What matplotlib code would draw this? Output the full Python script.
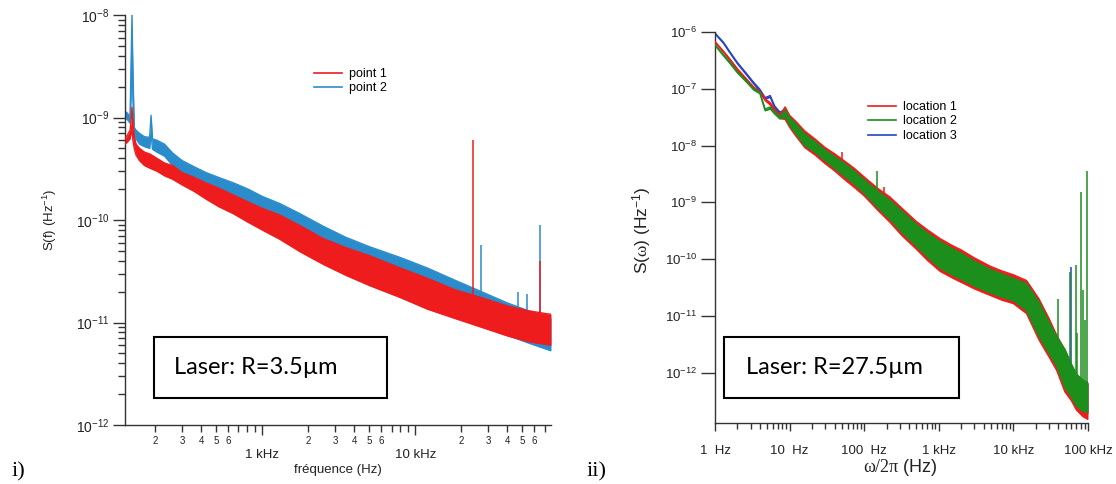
import numpy as np
import matplotlib
matplotlib.use('Agg')
import matplotlib.pyplot as plt
from matplotlib.ticker import FixedLocator, FixedFormatter, LogLocator, FuncFormatter, NullFormatter, NullLocator
from matplotlib.ticker import LogFormatterSciNotation
from matplotlib.patches import Rectangle
from matplotlib.lines import Line2D

plt.rcParams['font.family'] = ['Liberation Sans', 'DejaVu Sans']
plt.rcParams['mathtext.fontset'] = 'custom'
plt.rcParams['mathtext.rm'] = 'Liberation Sans'
plt.rcParams['mathtext.it'] = 'Liberation Sans:italic'
plt.rcParams['mathtext.tt'] = 'Liberation Serif'

# ---------------- data: panel i) ----------------
p2_freq = [127, 132, 137, 139, 141, 143, 146, 150, 158, 170, 184, 188, 192, 205, 230, 260, 300, 360, 430,
           520, 650, 810, 1000, 1300, 1770, 2500, 3500, 5000, 8000, 12000, 18000, 27000, 40000, 55000, 77000]
p2_hi = [1.15e-9, 1.1e-9, 1.0e-9, 3e-9, 1e-8, 3e-9, 8e-10, 7.5e-10, 7e-10, 6.5e-10, 6.4e-10, 1.05e-9, 6.2e-10,
         6.0e-10, 5.5e-10, 4.5e-10, 3.8e-10, 3.3e-10, 2.9e-10, 2.6e-10, 2.3e-10, 2.0e-10, 1.7e-10, 1.45e-10,
         1.15e-10, 8.7e-11, 6.8e-11, 5.5e-11, 4.3e-11, 3.4e-11, 2.6e-11, 2.0e-11, 1.55e-11, 1.3e-11, 1.1e-11]
p2_lo = [1.0e-9, 9.5e-10, 8.8e-10, 1.5e-9, 6e-9, 1.5e-9, 7e-10, 6.2e-10, 5.5e-10, 5.2e-10, 5.0e-10, 7e-10, 4.9e-10,
         4.6e-10, 4.2e-10, 3.4e-10, 2.9e-10, 2.5e-10, 2.1e-10, 1.8e-10, 1.5e-10, 1.3e-10, 1.1e-10, 9.2e-11,
         7.2e-11, 5.4e-11, 4.1e-11, 3e-11, 2.2e-11, 1.7e-11, 1.3e-11, 1.0e-11, 7.5e-12, 6.3e-12, 5.3e-12]

p1_freq = [127, 132, 137, 139, 141, 143, 146, 150, 158, 170, 185, 205, 230, 260, 300, 360, 430, 520, 650,
           810, 1000, 1300, 1770, 2500, 3500, 5000, 8000, 12000, 18000, 27000, 40000, 55000, 77000]
p1_hi = [6.2e-10, 6.8e-10, 7.5e-10, 9e-10, 1.26e-9, 9e-10, 6.5e-10, 5.5e-10, 5e-10, 4.6e-10, 4.4e-10, 4.0e-10,
         3.6e-10, 3.4e-10, 2.9e-10, 2.6e-10, 2.3e-10, 2.05e-10, 1.75e-10, 1.5e-10, 1.3e-10, 1.12e-10, 8.8e-11,
         6.6e-11, 5.4e-11, 4.5e-11, 3.4e-11, 2.7e-11, 2.1e-11, 1.75e-11, 1.45e-11, 1.3e-11, 1.2e-11]
p1_lo = [5.5e-10, 5.8e-10, 6.2e-10, 7e-10, 8e-10, 6e-10, 5e-10, 4.3e-10, 3.8e-10, 3.4e-10, 3.2e-10, 3.0e-10,
         2.7e-10, 2.5e-10, 2.2e-10, 1.9e-10, 1.6e-10, 1.35e-10, 1.15e-10, 9.5e-11, 8.0e-11, 6.5e-11, 4.9e-11,
         3.7e-11, 2.9e-11, 2.3e-11, 1.75e-11, 1.35e-11, 1.1e-11, 9e-12, 7.4e-12, 6.5e-12, 6e-12]

p1_spike_f = [24000, 65000]
p1_spike_top = [6e-10, 4e-11]
p1_spike_base = [1.2e-11, 1.0e-11]
p2_spike_f = [27000, 47000, 54000, 65000]
p2_spike_top = [5.7e-11, 2e-11, 1.9e-11, 9e-11]
p2_spike_base = [1.5e-11, 1.2e-11, 1.2e-11, 1.1e-11]

left_labels = ['point 1', 'point 2']
left_xticks = [1000, 10000]
left_xticklabels = ['1 kHz', '10 kHz']
left_yticks = [1e-12, 1e-11, 1e-10, 1e-9, 1e-8]

# ---------------- data: panel ii) ----------------
r_freq = [1, 1.3, 1.6, 2.0, 2.7, 3.3, 4.0, 4.7, 5.5, 6.3, 7.4, 8.7, 10, 12, 16, 22, 30, 40, 55, 75, 100, 153,
          220, 320, 500, 700, 1040, 1500, 2000, 3000, 4900, 7000, 10000, 15000, 22000, 30000, 38000, 49000,
          60000, 70000, 85000, 100000]
r1_hi = [6.8e-7, 4.6e-7, 3.3e-7, 2.25e-7, 1.45e-7, 1.08e-7, 9.0e-8, 6.7e-8, 5.7e-8, 4.4e-8, 3.4e-8, 4.8e-8,
         3.4e-8, 2.7e-8, 1.8e-8, 1.3e-8, 9.2e-9, 7.2e-9, 5.3e-9, 3.9e-9, 2.8e-9, 1.75e-9, 1.25e-9, 7.9e-10,
         4.6e-10, 3.3e-10, 2.3e-10, 1.75e-10, 1.45e-10, 1.05e-10, 7.5e-11, 6.2e-11, 5.3e-11, 4.2e-11, 2.0e-11,
         9e-12, 4.6e-12, 2.5e-12, 1.4e-12, 9e-13, 7.3e-13, 6.8e-13]
r1_lo = [6.5e-7, 4.4e-7, 3.1e-7, 2.1e-7, 1.35e-7, 1.0e-7, 8.5e-8, 6.2e-8, 5.2e-8, 4.0e-8, 3.0e-8, 2.9e-8,
         2.1e-8, 1.5e-8, 9.2e-9, 6.8e-9, 4.8e-9, 3.6e-9, 2.5e-9, 1.8e-9, 1.3e-9, 7.2e-10, 4.5e-10, 2.6e-10,
         1.5e-10, 9.6e-11, 6.1e-11, 4.7e-11, 3.9e-11, 3.0e-11, 2.3e-11, 1.9e-11, 1.65e-11, 1.1e-11, 3.8e-12,
         1.9e-12, 1.1e-12, 4.6e-13, 3.2e-13, 2.2e-13, 1.7e-13, 1.5e-13]
r2_hi = [6.0e-7, 4.0e-7, 2.9e-7, 2.0e-7, 1.33e-7, 1.0e-7, 8.7e-8, 4.4e-8, 4.8e-8, 3.9e-8, 3.2e-8, 4.2e-8,
         3.1e-8, 2.45e-8, 1.6e-8, 1.17e-8, 8.3e-9, 6.4e-9, 4.8e-9, 3.5e-9, 2.5e-9, 1.55e-9, 1.1e-9, 7.0e-10,
         4.1e-10, 2.9e-10, 2.05e-10, 1.55e-10, 1.27e-10, 9.2e-11, 6.6e-11, 5.5e-11, 4.6e-11, 3.7e-11, 1.75e-11,
         7.8e-12, 4.3e-12, 2.6e-12, 1.4e-12, 9.5e-13, 7.5e-13, 6.6e-13]
r2_lo = [5.8e-7, 3.8e-7, 2.75e-7, 1.9e-7, 1.27e-7, 9.5e-8, 8.2e-8, 4.1e-8, 4.4e-8, 3.6e-8, 2.95e-8, 3.2e-8,
         2.3e-8, 1.65e-8, 1.0e-8, 7.6e-9, 5.4e-9, 4.0e-9, 2.85e-9, 2.05e-9, 1.45e-9, 8.0e-10, 5.1e-10, 2.95e-10,
         1.7e-10, 1.1e-10, 6.9e-11, 5.3e-11, 4.4e-11, 3.35e-11, 2.55e-11, 2.15e-11, 1.85e-11, 1.25e-11, 4.4e-12,
         2.2e-12, 1.3e-12, 5.5e-13, 3.7e-13, 2.6e-13, 2.1e-13, 2.0e-13]
r3_hi = [9.6e-7, 6.6e-7, 4.4e-7, 2.9e-7, 1.8e-7, 1.3e-7, 9.8e-8, 7.0e-8, 7.6e-8, 5.0e-8, 3.9e-8, 4.3e-8,
         3.2e-8, 2.5e-8, 1.65e-8, 1.2e-8, 8.5e-9, 6.6e-9, 4.9e-9, 3.6e-9, 2.6e-9, 1.6e-9, 1.15e-9, 7.2e-10,
         4.2e-10, 3.0e-10, 2.1e-10, 1.6e-10, 1.3e-10, 9.5e-11, 6.8e-11, 5.6e-11, 4.8e-11, 3.8e-11, 1.8e-11,
         8e-12, 4.2e-12, 2.3e-12, 1.3e-12, 8.5e-13, 7e-13, 6.5e-13]
r3_lo = [9.3e-7, 6.3e-7, 4.2e-7, 2.75e-7, 1.7e-7, 1.22e-7, 9.2e-8, 6.6e-8, 7.1e-8, 4.6e-8, 3.5e-8, 3.4e-8,
         2.4e-8, 1.7e-8, 1.05e-8, 7.8e-9, 5.5e-9, 4.1e-9, 2.9e-9, 2.1e-9, 1.5e-9, 8.2e-10, 5.2e-10, 3.0e-10,
         1.7e-10, 1.1e-10, 7e-11, 5.4e-11, 4.5e-11, 3.4e-11, 2.6e-11, 2.2e-11, 1.9e-11, 1.3e-11, 4.5e-12,
         2.2e-12, 1.3e-12, 5.5e-13, 3.8e-13, 2.6e-13, 2.1e-13, 1.9e-13]

r1_spike_f = [50, 186]
r1_spike_top = [7.7e-9, 1.9e-9]
r1_spike_base = [4e-9, 1e-9]
r2_spike_f = [150, 40000, 47000, 57000, 69000, 72000, 80000, 85000, 90000, 98000]
r2_spike_top = [3.5e-9, 2e-11, 2.5e-12, 6e-11, 8e-11, 5e-12, 1.5e-9, 2.9e-11, 8.6e-12, 3.5e-9]
r2_spike_base = [1.2e-9, 3e-12, 1e-12, 1e-12, 7e-13, 6e-13, 6e-13, 6e-13, 6e-13, 6e-13]
r3_spike_f = [59000]
r3_spike_top = [7.4e-11]
r3_spike_base = [1e-12]

right_labels = ['location 1', 'location 2', 'location 3']
right_xticks = [1, 10, 100, 1000, 10000, 100000]
right_xticklabels = ['1  Hz', '10  Hz', '100  Hz', '1 kHz', '10 kHz', '100 kHz']
right_yticks = [1e-12, 1e-11, 1e-10, 1e-9, 1e-8, 1e-7, 1e-6]

# ---------------- colours ----------------
C_RED = '#ee1c1c'
C_LBLUE = '#2b8ccc'
C_GREEN = '#1c8e1c'
C_DBLUE = '#2444c4'
AX_COL = '#333333'

W, H = 1116, 484
fig = plt.figure(figsize=(W / 100, H / 100), dpi=100)


def fx(px):
    return px / W


def fy(py):
    return 1 - py / H


def band(ax, f, lo, hi, color, z):
    ax.fill_between(f, lo, hi, color=color, lw=0, zorder=z)
    ax.plot(f, hi, color=color, lw=1.0, zorder=z)
    ax.plot(f, lo, color=color, lw=1.0, zorder=z)


def style(ax):
    for s in ['top', 'right']:
        ax.spines[s].set_visible(False)
    for s in ['left', 'bottom']:
        ax.spines[s].set_color(AX_COL)
        ax.spines[s].set_linewidth(1.0)
    ax.tick_params(which='both', colors=AX_COL, labelcolor='#222222', direction='out')
    ax.xaxis.label.set_visible(False)
    ax.yaxis.label.set_visible(False)
    ax.xaxis.get_offset_text().set_visible(False)
    ax.yaxis.get_offset_text().set_visible(False)


# ================= panel i) =================
axL = fig.add_axes([fx(125), fy(425), fx(551 - 125), (425 - 15) / H])
axL.set_xscale('log')
axL.set_yscale('log')
band(axL, p2_freq, p2_lo, p2_hi, C_LBLUE, 2)
axL.vlines(p2_spike_f, p2_spike_base, p2_spike_top, color=C_LBLUE, lw=1.1, zorder=2.5)
band(axL, p1_freq, p1_lo, p1_hi, C_RED, 3)
axL.vlines(p1_spike_f, p1_spike_base, p1_spike_top, color=C_RED, lw=1.1, zorder=3.5)
axL.set_xlim(127, 77000)
axL.set_ylim(1e-12, 1e-8)
style(axL)
axL.yaxis.set_major_locator(FixedLocator(left_yticks))
axL.yaxis.set_major_formatter(LogFormatterSciNotation())
axL.yaxis.set_minor_locator(FixedLocator([m * d for d in left_yticks[:-1] for m in range(2, 10)]))
axL.yaxis.set_minor_formatter(NullFormatter())
axL.tick_params(axis='y', which='major', length=9, width=1, pad=2, labelsize=10)
axL.tick_params(axis='y', which='minor', length=5, width=1)
axL.xaxis.set_major_locator(FixedLocator(left_xticks))
axL.xaxis.set_major_formatter(FixedFormatter(left_xticklabels))
axL.xaxis.set_minor_locator(FixedLocator([m * d for d in [100, 1000, 10000] for m in range(2, 10)
                                           if 127 <= m * d <= 77000]))


def minor_lab(v, pos):
    m = int(round(v / 10 ** np.floor(np.log10(v) + 1e-9)))
    return str(m) if 2 <= m <= 6 else ''


axL.xaxis.set_minor_formatter(FuncFormatter(minor_lab))
axL.tick_params(axis='x', which='major', length=7, width=1, pad=10, labelsize=9.5)
axL.tick_params(axis='x', which='minor', length=5, width=1, pad=3, labelsize=7)

handlesL = [Line2D([], [], color=C_RED, lw=1.2), Line2D([], [], color=C_LBLUE, lw=1.2)]
fig.legend(handlesL, left_labels, loc='upper left', bbox_to_anchor=(fx(314), fy(68)),
           frameon=False, fontsize=9, handlelength=2.2, handletextpad=0.6, labelspacing=0.2,
           borderpad=0, borderaxespad=0)

fig.text(fx(50), fy(220), r'S(f) (Hz$^{\mathregular{-1}}$)', rotation=90, ha='center', va='center',
         fontsize=9.5, color='#222222')
fig.text(fx(338), fy(470), 'fréquence (Hz)', ha='center', va='center', fontsize=9.5, color='#222222')

fig.add_artist(Rectangle((fx(154), fy(398)), (387 - 154) / W, (398 - 337) / H, transform=fig.transFigure,
                         fill=False, lw=1.5, edgecolor='black'))
fig.text(fx(174), fy(367), 'Laser: R=3.5µm', ha='left', va='center', fontsize=17,
         family=['Lato', 'DejaVu Sans'], color='black')
fig.text(fx(12), fy(472), 'i)', ha='left', va='center', fontsize=16, family=['Liberation Serif'],
         color='black')

# ================= panel ii) =================
axR = fig.add_axes([fx(715), fy(423), fx(1088 - 715), (423 - 32) / H])
axR.set_xscale('log')
axR.set_yscale('log')
band(axR, r_freq, r3_lo, r3_hi, C_DBLUE, 2)
axR.vlines(r3_spike_f, r3_spike_base, r3_spike_top, color=C_DBLUE, lw=1.1, zorder=2.5)
band(axR, r_freq, r1_lo, r1_hi, C_RED, 3)
axR.vlines(r1_spike_f, r1_spike_base, r1_spike_top, color=C_RED, lw=1.1, zorder=3.5)
band(axR, r_freq, r2_lo, r2_hi, C_GREEN, 4)
axR.vlines(r2_spike_f, r2_spike_base, r2_spike_top, color=C_GREEN, lw=1.1, zorder=4.5)
axR.set_xlim(1, 100000)
axR.set_ylim(1.3e-13, 1e-6)
style(axR)
axR.yaxis.set_major_locator(FixedLocator(right_yticks))
axR.yaxis.set_major_formatter(LogFormatterSciNotation())
axR.yaxis.set_minor_locator(NullLocator())
axR.tick_params(axis='y', which='major', length=10, width=1, pad=3, labelsize=9.5)
axR.xaxis.set_major_locator(FixedLocator(right_xticks))
axR.xaxis.set_major_formatter(FixedFormatter(right_xticklabels))
axR.xaxis.set_minor_locator(FixedLocator([m * d for d in right_xticks[:-1] for m in range(2, 10)]))
axR.xaxis.set_minor_formatter(NullFormatter())
axR.tick_params(axis='x', which='major', length=6, width=1, pad=10, labelsize=9.5)
axR.tick_params(axis='x', which='minor', length=4, width=1)

handlesR = [Line2D([], [], color=C_RED, lw=1.2), Line2D([], [], color=C_GREEN, lw=1.2),
            Line2D([], [], color=C_DBLUE, lw=1.2)]
fig.legend(handlesR, right_labels, loc='upper left', bbox_to_anchor=(fx(868), fy(101)),
           frameon=False, fontsize=9, handlelength=2.2, handletextpad=0.6, labelspacing=0.2,
           borderpad=0, borderaxespad=0)

fig.text(fx(642), fy(230), r'S($\mathtt{\omega}$) (Hz$^{\mathregular{-1}}$)', rotation=90, ha='center',
         va='center', fontsize=12.5, color='#222222')
fig.text(fx(900), fy(467), r'$\mathtt{\omega/2\pi}$ (Hz)', ha='center', va='center', fontsize=13,
         color='#222222')

fig.add_artist(Rectangle((fx(724), fy(398)), (959 - 724) / W, (398 - 337) / H, transform=fig.transFigure,
                         fill=False, lw=1.5, edgecolor='black'))
fig.text(fx(746), fy(367), 'Laser: R=27.5µm', ha='left', va='center', fontsize=17,
         family=['Lato', 'DejaVu Sans'], color='black')
fig.text(fx(587), fy(472), 'ii)', ha='left', va='center', fontsize=16, family=['Liberation Serif'],
         color='black')

fig.savefig('out.png', dpi=100)
